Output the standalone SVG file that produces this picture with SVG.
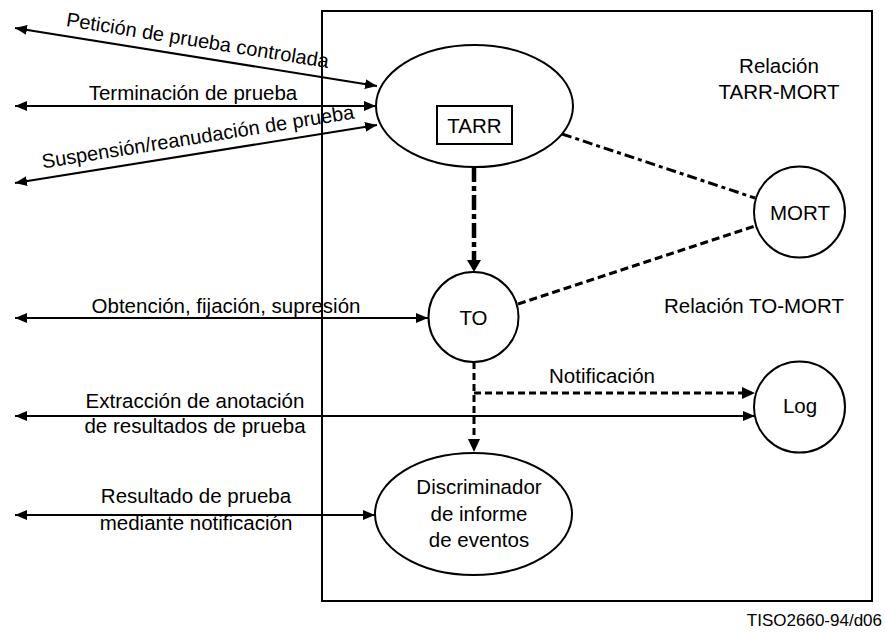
<svg xmlns="http://www.w3.org/2000/svg" width="885" height="632" viewBox="0 0 885 632">
<style>
text{font-family:"Liberation Sans",Arial,sans-serif;font-size:20.5px;fill:#000}
.m{text-anchor:middle}
.node{fill:#fff;stroke:#000;stroke-width:2}
.sol{stroke:#000;stroke-width:2;fill:none}
.dd{stroke:#000;fill:none}
</style>
<defs>
<marker id="ah" markerUnits="userSpaceOnUse" markerWidth="13" markerHeight="11" refX="12" refY="5" orient="auto-start-reverse" viewBox="0 0 13 11">
<path d="M0,0 L12,5 L0,10 z" fill="#000"/>
</marker>
</defs>
<rect id="frame" x="322" y="11" width="550" height="590" fill="none" stroke="#000" stroke-width="2"/>
<g id="connectors">
<line class="sol" x1="15" y1="28" x2="377" y2="86" marker-start="url(#ah)" marker-end="url(#ah)"/>
<line class="sol" x1="15" y1="106" x2="376" y2="106" marker-start="url(#ah)" marker-end="url(#ah)"/>
<line class="sol" x1="15" y1="183" x2="377" y2="125" marker-start="url(#ah)" marker-end="url(#ah)"/>
<line class="sol" x1="15" y1="318" x2="428" y2="318" marker-start="url(#ah)" marker-end="url(#ah)"/>
<line class="sol" x1="15" y1="416" x2="755" y2="416" marker-start="url(#ah)" marker-end="url(#ah)"/>
<line class="sol" x1="15" y1="515" x2="375" y2="515" marker-start="url(#ah)" marker-end="url(#ah)"/>
<line class="dd" x1="474" y1="167" x2="474" y2="261" stroke-width="4.5" stroke-dasharray="15 4 5 4"/>
<path d="M467,260 L481,260 L474,272 z" fill="#000"/>
<line class="dd" x1="562" y1="134" x2="755" y2="198" stroke-width="3" stroke-dasharray="10 4 4 4"/>
<line class="dd" x1="518" y1="304" x2="755" y2="226" stroke-width="3" stroke-dasharray="8 4"/>
<line class="dd" x1="474" y1="362" x2="474" y2="440" stroke-width="3" stroke-dasharray="7 4"/>
<path d="M468,439 L480,439 L474,452 z" fill="#000"/>
<line class="dd" x1="474" y1="393" x2="744" y2="393" stroke-width="3" stroke-dasharray="7 4"/>
<path d="M742,387 L755,393 L742,399 z" fill="#000"/>
</g>
<g id="labels">
<text class="m" style="font-size:20px" transform="translate(196.6,46.9) rotate(9.1)">Petición de prueba controlada</text>
<text class="m" x="193" y="100">Terminación de prueba</text>
<text class="m" style="font-size:20px" transform="translate(199,143.5) rotate(-9.1)">Suspensión/reanudación de prueba</text>
<text class="m" x="226" y="313">Obtención, fijación, supresión</text>
<text class="m" x="195" y="408">Extracción de anotación</text>
<text class="m" x="195" y="433">de resultados de prueba</text>
<text class="m" x="196" y="503">Resultado de prueba</text>
<text class="m" x="196" y="530">mediante notificación</text>
<text class="m" x="602" y="383">Notificación</text>
<text class="m" x="779" y="73">Relación</text>
<text class="m" x="779" y="99">TARR-MORT</text>
<text class="m" x="754" y="313">Relación TO-MORT</text>
<text x="882" y="626" text-anchor="end" style="font-size:17px">TISO2660-94/d06</text>
</g>
<g id="TARR">
<ellipse class="node" cx="474.5" cy="106" rx="98.5" ry="61"/>
<rect x="437" y="106" width="75" height="38" fill="none" stroke="#000" stroke-width="2"/>
<text class="m" x="474.5" y="133">TARR</text>
</g>
<g id="TO">
<circle class="node" cx="473.5" cy="317" r="45"/>
<text class="m" x="473.5" y="325">TO</text>
</g>
<g id="MORT">
<circle class="node" cx="799.5" cy="212" r="45.5"/>
<text class="m" x="800" y="220">MORT</text>
</g>
<g id="Log">
<circle class="node" cx="799.5" cy="407" r="45.5"/>
<text class="m" x="800" y="413">Log</text>
</g>
<g id="Discriminador">
<ellipse class="node" cx="473.5" cy="514" rx="98.5" ry="61"/>
<text class="m" x="479" y="494">Discriminador</text>
<text class="m" x="479" y="521">de informe</text>
<text class="m" x="479" y="547">de eventos</text>
</g>
</svg>
